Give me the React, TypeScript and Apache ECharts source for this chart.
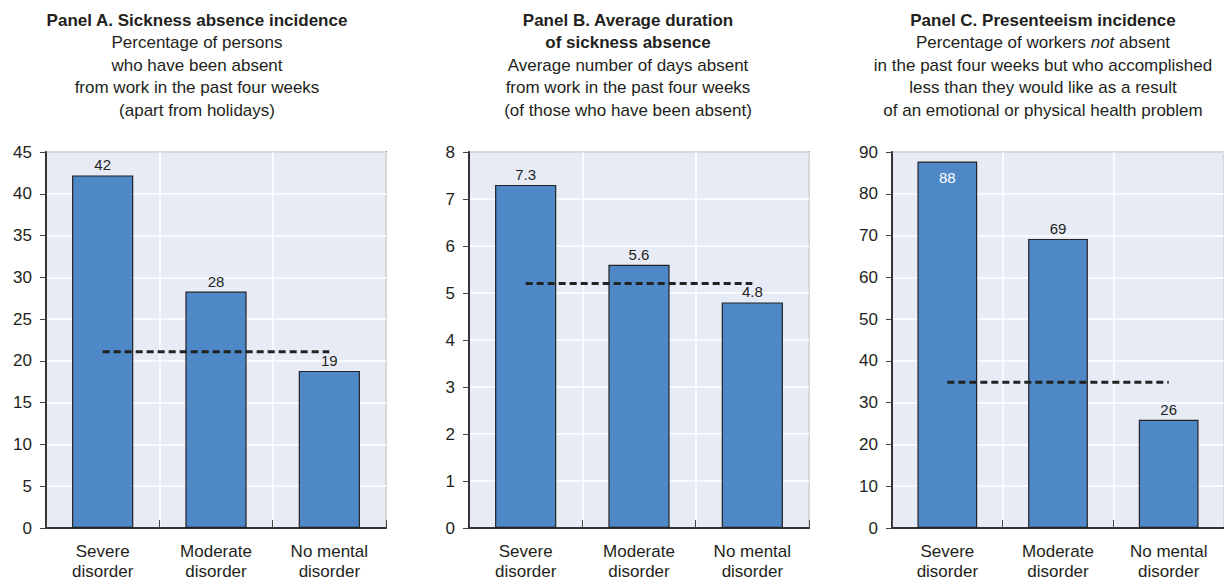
import React, { useEffect, useRef } from "react";
import * as echarts from "echarts";

const categories = ["Severe\ndisorder", "Moderate\ndisorder", "No mental\ndisorder"];
const panelAValues = [42.2, 28.3, 18.8];
const panelBValues = [7.3, 5.6, 4.8];
const panelCValues = [87.7, 69.2, 25.9];
const panelALabels = ["42", "28", "19"];
const panelBLabels = ["7.3", "5.6", "4.8"];
const panelCLabels = ["88", "69", "26"];
const averages = [21.1, 5.2, 34.9];
const yMax = [45, 8, 90];
const yInterval = [5, 1, 10];

const FONT = "'Liberation Sans Narrow', 'Arial Narrow', 'Liberation Sans', sans-serif";
const TXT = "#231f20";
const BAR = "#4f88c6";
const BG = "#e7ebf6";

const gridLefts = [46, 469, 892];
const GRID_TOP = 152;
const GRID_W = 340;
const GRID_H = 377;

const titleLines: { x: number; lines: { t: string; bold?: boolean; rich?: boolean }[] }[] = [
  {
    x: 197,
    lines: [
      { t: "Panel A. Sickness absence incidence", bold: true },
      { t: "Percentage of persons" },
      { t: "who have been absent" },
      { t: "from work in the past four weeks" },
      { t: "(apart from holidays)" },
    ],
  },
  {
    x: 628,
    lines: [
      { t: "Panel B. Average duration", bold: true },
      { t: "of sickness absence", bold: true },
      { t: "Average number of days absent" },
      { t: "from work in the past four weeks" },
      { t: "(of those who have been absent)" },
    ],
  },
  {
    x: 1043,
    lines: [
      { t: "Panel C. Presenteeism incidence", bold: true },
      { t: "Percentage of workers {i|not} absent", rich: true },
      { t: "in the past four weeks but who accomplished" },
      { t: "less than they would like as a result" },
      { t: "of an emotional or physical health problem" },
    ],
  },
];

export default function App() {
  const ref = useRef<HTMLDivElement>(null);
  useEffect(() => {
    if (!ref.current) return;
    const chart = echarts.init(ref.current, null, { renderer: "svg" });
    const valueSets = [panelAValues, panelBValues, panelCValues];
    const labelSets = [panelALabels, panelBLabels, panelCLabels];

    const grids = gridLefts.map((l) => ({
      left: l,
      top: GRID_TOP,
      width: GRID_W,
      height: GRID_H,
      show: true,
      backgroundColor: BG,
      borderColor: "#333",
      borderWidth: 1.5,
    }));

    const xAxes = gridLefts.map((_, i) => ({
      type: "category",
      gridIndex: i,
      data: categories,
      axisLine: { lineStyle: { color: "#333", width: 2 } },
      axisTick: { show: true, inside: true, length: 8, lineStyle: { color: "#444" } },
      splitLine: { show: true, lineStyle: { color: "#ffffff", width: 1.5 } },
      axisLabel: {
        fontFamily: FONT,
        fontSize: 17,
        color: TXT,
        margin: 13,
        lineHeight: 20,
        interval: 0,
      },
    }));

    const yAxes = gridLefts.map((_, i) => ({
      type: "value",
      gridIndex: i,
      min: 0,
      max: yMax[i],
      interval: yInterval[i],
      axisLine: { show: true, lineStyle: { color: "#333", width: 2 } },
      axisTick: { show: true, length: 6, lineStyle: { color: "#444" } },
      splitLine: { show: true, lineStyle: { color: "#ffffff", width: 1.5 } },
      axisLabel: { fontFamily: FONT, fontSize: 17, color: TXT, margin: 14 },
    }));

    const series: any[] = [];
    valueSets.forEach((vals, i) => {
      series.push({
        type: "bar",
        xAxisIndex: i,
        yAxisIndex: i,
        barWidth: "54%",
        data: vals.map((v, j) => ({
          value: v,
          label:
            i === 2 && j === 0
              ? { show: true, position: "insideTop", color: "#ffffff", distance: 8 }
              : { show: true, position: "top", color: TXT, distance: 3 },
        })),
        itemStyle: { color: BAR, borderColor: "#222", borderWidth: 1.2 },
        label: {
          fontFamily: FONT,
          fontSize: 15,
          formatter: (p: any) => labelSets[i][p.dataIndex],
        },
        z: 2,
      });
      series.push({
        type: "line",
        xAxisIndex: i,
        yAxisIndex: i,
        data: categories.map(() => averages[i]),
        symbol: "none",
        lineStyle: { color: "#222", width: 3, type: [7, 4] },
        z: 3,
      });
    });

    const graphics: any[] = [];
    titleLines.forEach((p) => {
      p.lines.forEach((ln, k) => {
        graphics.push({
          type: "text",
          x: p.x,
          y: 20 + k * 22.6,
          style: {
            text: ln.t,
            fill: TXT,
            font: `${ln.bold ? "bold " : ""}17px ${FONT}`,
            textAlign: "center",
            textVerticalAlign: "middle",
            rich: ln.rich
              ? { i: { fontStyle: "italic", fontFamily: FONT, fontSize: 17, fill: TXT } }
              : undefined,
          },
        });
      });
    });

    chart.setOption({
      animation: false,
      grid: grids,
      xAxis: xAxes,
      yAxis: yAxes,
      series,
      graphic: graphics,
    });
    return () => chart.dispose();
  }, []);
  return (
    <div
      ref={ref}
      style={{ position: "fixed", left: 0, top: 0, width: 1224, height: 581, background: "#fff" }}
    />
  );
}
